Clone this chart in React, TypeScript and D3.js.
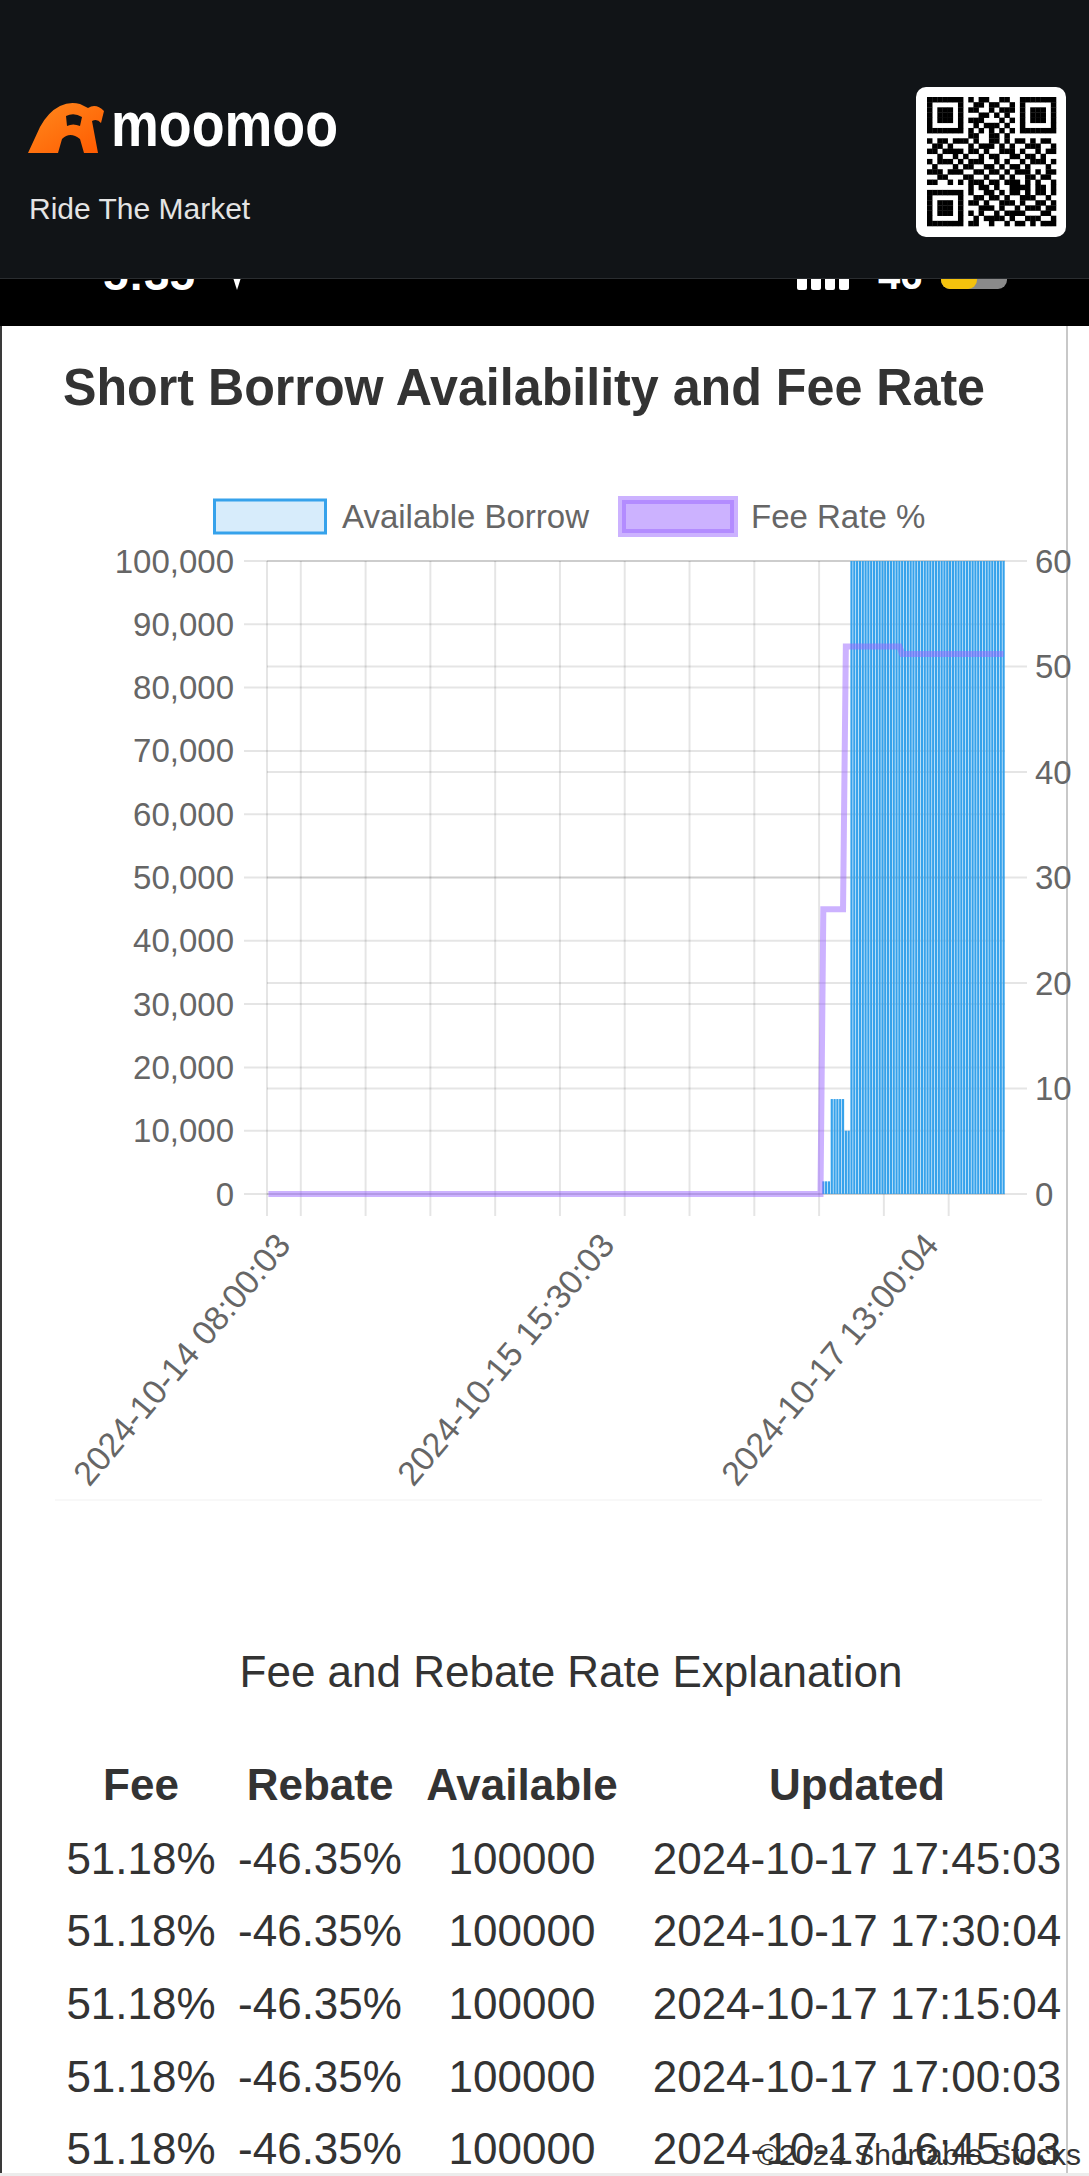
import React from "react";
import * as d3 from "d3";

// ---------- data ----------
// Available borrow (run-length: consecutive categories with the same value)
const availSegments = [
  { count: 197, value: 0 },
  { count: 3, value: 2000 },
  { count: 5, value: 15000 },
  { count: 2, value: 10000 },
  { count: 55, value: 100000 },
];
// Fee rate % (run-length)
const feeSegments = [
  { count: 197, value: 0 },
  { count: 8, value: 27.0 },
  { count: 20, value: 51.9 },
  { count: 37, value: 51.18 },
];
const xTickLabels = [
  { index: 12, label: "2024-10-14 08:00:03" },
  { index: 127, label: "2024-10-15 15:30:03" },
  { index: 242, label: "2024-10-17 13:00:04" },
];
const gridIndices = [12, 35, 58, 81, 104, 127, 150, 173, 196, 219, 242];
const leftTicks = [0, 10000, 20000, 30000, 40000, 50000, 60000, 70000, 80000, 90000, 100000];
const rightTicks = [0, 10, 20, 30, 40, 50, 60];

const tableHeaders = ["Fee", "Rebate", "Available", "Updated"];
const rowFee = ["51.18%", "51.18%", "51.18%", "51.18%", "51.18%"];
const rowRebate = ["-46.35%", "-46.35%", "-46.35%", "-46.35%", "-46.35%"];
const rowAvailable = ["100000", "100000", "100000", "100000", "100000"];
const rowUpdated = [
  "2024-10-17 17:45:03",
  "2024-10-17 17:30:04",
  "2024-10-17 17:15:04",
  "2024-10-17 17:00:03",
  "2024-10-17 16:45:03",
];

const qrRows = [
  "1111111010110011001111111",
  "1000001001101100101000001",
  "1011101011001011101011101",
  "1011101000110101001011101",
  "1011101011100010101011101",
  "1000001001011101001000001",
  "1111111010101010101111111",
  "0000000011001101000000000",
  "1011011101001101011010110",
  "0110100010111010100111001",
  "1101111011010011101001011",
  "0010010100101100110110100",
  "1011101011100101001011101",
  "0100010110011010110100010",
  "1110111001101101011101011",
  "0011000110010010100110110",
  "1100101011101101110101001",
  "0000000010110100111101101",
  "1111111010011010110101101",
  "1000001001101101001110010",
  "1011101011010011101001101",
  "1011101000111010010111011",
  "1011101010100101111000110",
  "1000001001011110100111001",
  "1111111011001001011010111",
];

const FONT = "'Liberation Sans', Arial, Helvetica, sans-serif";

const expand = (segs: { count: number; value: number }[]) =>
  segs.flatMap((s) => Array(s.count).fill(s.value) as number[]);

export default function App() {
  const avail = expand(availSegments);
  const fee = expand(feeSegments);
  const n = avail.length;

  const left = 267, right = 1005, top = 561, bottom = 1194;
  const x = d3
    .scaleBand<number>()
    .domain(d3.range(n))
    .range([left, right])
    .paddingInner(0.22)
    .paddingOuter(0.11);
  const bw = x.bandwidth();
  const half = (x.step() - bw) / 2;
  const yL = d3.scaleLinear().domain([0, 100000]).range([bottom, top]);
  const yR = d3.scaleLinear().domain([0, 60]).range([bottom, top]);
  const fmt = d3.format(",");

  const line = d3
    .line<number>()
    .x((_, i) => (x(i) as number) + bw / 2)
    .y((d) => yR(d));

  const grid = "rgba(0,0,0,0.1)";
  const tickColor = "#666";

  const qrX = 927, qrY = 97, mod = 129 / 25;
  const colX = [141, 320, 522, 857];
  const rowY = [1874, 1946, 2019, 2092, 2164];

  return (
    <div style={{ position: "absolute", left: 0, top: 0 }}>
      <svg width={1089} height={2176} style={{ display: "block", fontFamily: FONT }}>
        <rect x={0} y={0} width={1089} height={2176} fill="#fff" />
        {/* phone status bar remnants */}
        <rect x={0} y={0} width={1089} height={326} fill="#000" />
        <text x={103} y={290} fill="#fff" fontSize={46} fontWeight={700}>5:35</text>
        <path d="M228,262 L246,262 L237,290 Z" fill="#fff" />
        {[0, 1, 2, 3].map((i) => (
          <rect key={i} x={797 + i * 14} y={250} width={10} height={40} rx={2} fill="#fff" />
        ))}
        <text x={878} y={289} fill="#fff" fontSize={40} fontWeight={700}>46</text>
        <rect x={941} y={250} width={66} height={39} rx={9} fill="#8a8a8a" />
        <rect x={941} y={250} width={36} height={39} rx={9} fill="#f4c20d" />
        {/* header */}
        <rect x={0} y={0} width={1089} height={278} fill="#111417" />
        <line x1={0} x2={1089} y1={278.5} y2={278.5} stroke="#2a2d30" strokeWidth={1} />
        <defs>
          <linearGradient id="og" x1="0" y1="0" x2="1" y2="1">
            <stop offset="0" stopColor="#ff8a1e" />
            <stop offset="1" stopColor="#ff5a00" />
          </linearGradient>
        </defs>
        <path
          d="M28,153 L40,127 Q48,112 60,106 Q70,101 80,104 L88,108 Q96,103 104,111 L101,123 Q97,118 92,121 L98,153 L84,153 L80,139 Q70,131 62,139 L58,153 Z"
          fill="url(#og)"
        />
        <path d="M66,116 Q74,112 82,117 L80,126 Q73,123 67,126 Z" fill="#111417" />
        <text x={111} y={146} fill="#fff" fontSize={63} fontWeight={700} textLength={227} lengthAdjust="spacingAndGlyphs">
          moomoo
        </text>
        <text x={29} y={219} fill="#e4e4e4" fontSize={30}>Ride The Market</text>
        <rect x={916} y={87} width={150} height={150} rx={10} fill="#fff" />
        {qrRows.map((row, r) =>
          row.split("").map((c, cI) =>
            c === "1" ? (
              <rect key={`${r}-${cI}`} x={qrX + cI * mod} y={qrY + r * mod} width={mod + 0.3} height={mod + 0.3} fill="#000" />
            ) : null
          )
        )}

        {/* page borders */}
        <line x1={1} x2={1} y1={326} y2={2176} stroke="#3a3a3a" strokeWidth={2} />
        <line x1={1067} x2={1067} y1={326} y2={2176} stroke="#c8c8c8" strokeWidth={2} />

        {/* title */}
        <text x={63} y={405} fill="#333" fontSize={51} fontWeight={700} textLength={922} lengthAdjust="spacingAndGlyphs">
          Short Borrow Availability and Fee Rate
        </text>

        {/* legend */}
        <rect x={214.5} y={500} width={111} height={33} fill="rgba(54,162,235,0.2)" stroke="rgb(54,162,235)" strokeWidth={3} />
        <text x={342} y={528} fill={tickColor} fontSize={33}>Available Borrow</text>
        <rect x={622} y={500} width={112} height={33} fill="rgba(153,102,255,0.5)" stroke="rgba(153,102,255,0.5)" strokeWidth={8} />
        <text x={751} y={528} fill={tickColor} fontSize={33}>Fee Rate %</text>

        {/* grid */}
        {leftTicks.map((t) => (
          <line key={`gl${t}`} x1={244} x2={right} y1={yL(t)} y2={yL(t)} stroke={grid} strokeWidth={2} />
        ))}
        {rightTicks.map((t) => (
          <line key={`gr${t}`} x1={left} x2={1027} y1={yR(t)} y2={yR(t)} stroke={grid} strokeWidth={2} />
        ))}
        <line x1={left} x2={left} y1={top} y2={1216} stroke={grid} strokeWidth={2} />
        {gridIndices.map((gi) => {
          const gx = (x(gi) as number) - half;
          return <line key={`gv${gi}`} x1={gx} x2={gx} y1={top} y2={1216} stroke={grid} strokeWidth={2} />;
        })}

        {/* bars */}
        {avail.map((v, i) =>
          v > 0 ? (
            <rect
              key={`b${i}`}
              x={x(i) as number}
              y={yL(v)}
              width={bw}
              height={bottom - yL(v)}
              fill="rgb(54,162,235)"
            />
          ) : null
        )}

        {/* fee line */}
        <path d={line(fee) || ""} fill="none" stroke="rgba(153,102,255,0.5)" strokeWidth={6} />

        {/* axes labels */}
        {leftTicks.map((t) => (
          <text key={`lt${t}`} x={234} y={yL(t) + 11.5} textAnchor="end" fill={tickColor} fontSize={33}>
            {fmt(t)}
          </text>
        ))}
        {rightTicks.map((t) => (
          <text key={`rt${t}`} x={1035} y={yR(t) + 11.5} textAnchor="start" fill={tickColor} fontSize={33}>
            {t}
          </text>
        ))}
        {xTickLabels.map((tl) => {
          const cx = (x(tl.index) as number) + bw / 2 - 10;
          return (
            <text
              key={tl.label}
              transform={`translate(${cx},1246) rotate(-50)`}
              textAnchor="end"
              fill={tickColor}
              fontSize={34}
            >
              {tl.label}
            </text>
          );
        })}
        <line x1={55} x2={1042} y1={1500} y2={1500} stroke="#f8f8f8" strokeWidth={2} />

        {/* explanation + table */}
        <text x={571} y={1687} textAnchor="middle" fill="#333" fontSize={44}>
          Fee and Rebate Rate Explanation
        </text>
        {tableHeaders.map((h, i) => (
          <text key={h} x={colX[i]} y={1800} textAnchor="middle" fill="#333" fontSize={44} fontWeight={700}>
            {h}
          </text>
        ))}
        {rowY.map((ry, r) => (
          <g key={`row${r}`} fill="#333" fontSize={44} textAnchor="middle">
            <text x={colX[0]} y={ry}>{rowFee[r]}</text>
            <text x={colX[1]} y={ry}>{rowRebate[r]}</text>
            <text x={colX[2]} y={ry}>{rowAvailable[r]}</text>
            <text x={colX[3]} y={ry}>{rowUpdated[r]}</text>
          </g>
        ))}
        <text x={757} y={2165} fill="#333" fontSize={30}>©2024 Shortable Stocks</text>
        <rect x={0} y={2173} width={1089} height={3} fill="#ececec" />
      </svg>
    </div>
  );
}
